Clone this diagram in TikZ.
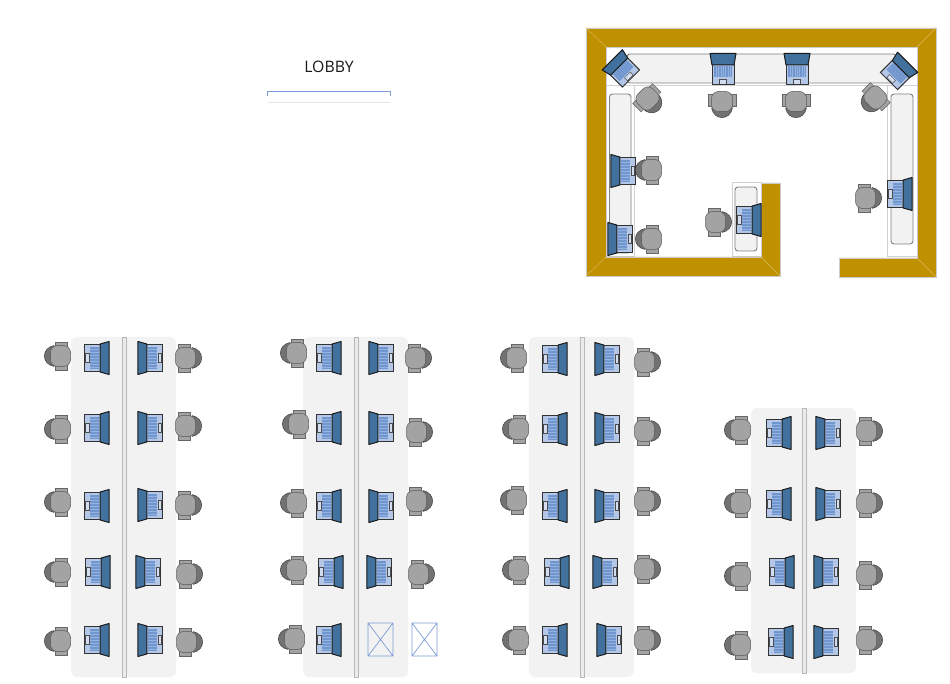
\documentclass[tikz,border=0pt]{standalone}
\usepackage{fontspec}
\setmainfont{Open Sans}
\definecolor{mywall}{RGB}{191,144,0}
\definecolor{mytable}{RGB}{242,242,242}
\definecolor{myscreen}{RGB}{65,113,156}
\definecolor{mybase}{RGB}{180,199,231}
\definecolor{mykeys}{RGB}{112,150,208}
\definecolor{myseat}{RGB}{163,163,163}
\definecolor{mycross}{RGB}{125,155,215}
\tikzset{
  laptop/.pic={
    \fill[mybase] (-11,-4) rectangle (11,16);
    \fill[mykeys] (-9,-3) rectangle (9,8.5);
    \draw[mybase!55!mykeys,line width=0.2pt,step=2.3] (-9,-3) grid (9,8.5);
    \draw[black!70,fill=mybase!60!white,line width=0.5pt] (-3.7,10) rectangle (3.7,15);
    \draw[black!80,line width=1pt] (-11,-4) rectangle (11,16);
    \draw[black!90,fill=myscreen,line width=1pt,line join=round] (-13,-15.5) -- (13,-15.5) -- (11,-4) -- (-11,-4) -- cycle;
  },
  chair/.pic={
    \draw[black!75,fill=myseat!70!black,line width=0.5pt,line join=round] (-10.5,3) .. controls (-8,15.8) and (8,15.8) .. (10.5,3) -- cycle;
    \draw[black!60,fill=myseat,line width=0.5pt] (-14,-10.5) rectangle (-9.5,1.5);
    \draw[black!60,fill=myseat,line width=0.5pt] (9.5,-10.5) rectangle (14,1.5);
    \draw[black!65,fill=myseat,line width=0.5pt,rounded corners=7pt] (-10.5,-13.5) rectangle (10.5,6.5);
  },
  sideways/.style={xscale=1.27,yscale=0.78},
  slanted/.style={xscale=1.1,yscale=0.84},
  counterout/.style={draw=black!18,line width=1pt,fill=white},
  counterin/.style={draw=black!50,line width=0.9pt,fill=mytable,rounded corners=3pt},
  tabletop/.style={fill=mytable,rounded corners=6pt},
  divider/.style={draw=black!28,line width=0.6pt,fill=black!8},
  emptybox/.style={draw=mycross,line width=0.7pt},
}
\begin{document}
\begin{tikzpicture}[x=1pt,y=-1pt]
  \useasboundingbox (0,0) rectangle (950,684);
  % lobby
  \node[font=\fontsize{15.8}{18}\selectfont,text=black!90] (lobby) at (329,67) {LOBBY};
  \draw[mycross,line width=0.8pt] (267,96) -- (267,91.5) -- (390.5,91.5) -- (390.5,96);
  \draw[black!10,line width=0.7pt] (268,102) -- (390,102);
  % room
  \draw[counterout] (606,47) rectangle (917,86);
  \draw[counterin] (627,54) -- (896,54) -- (896,83) -- (627,83) -- cycle;
  \draw[counterout] (606,86) rectangle (634,257);
  \draw[counterin] (609.5,94) rectangle (631,253);
  \draw[counterout] (887,86) rectangle (917,257);
  \draw[counterin] (891,94) rectangle (913,244);
  \draw[counterout] (732,183) rectangle (761,257);
  \draw[counterin] (735,187) rectangle (757,251);
  \draw[draw=black!20,fill=mywall,line width=0.7pt] (586,28) -- (936,28) -- (936,277) -- (839,277) -- (839,258) -- (917,258) -- (917,47) -- (606,47) -- (606,257) -- (761,257) -- (761,183) -- (780,183) -- (780,276) -- (586,276) -- cycle;
  \draw[mywall!60!white,line width=0.4pt] (586,28) -- (606,47) (936,28) -- (917,47) (936,277) -- (917,258) (780,276) -- (761,257) (586,276) -- (606,257);
  \foreach \x/\y in {723/69,797/69}
    \pic at (\x,\y) {laptop};
  \foreach \x/\y/\a in {621.5/69/45,898.5/71.5/-45}
    \pic[rotate=\a,slanted] at (\x,\y) {laptop};
  \foreach \x/\y/\a in {623/171/90,620/239/90,749/220/-90,900/194/-90}
    \pic[rotate=\a,sideways] at (\x,\y) {laptop};
  \foreach \x/\y/\a in {650/101/45,722/105/0,796/105/0,873/100/-45,648/170/-90,648/239/-90,719/222/90,869/198/90}
    \pic[rotate=\a] at (\x,\y) {chair};
  % tables
  \foreach \x/\t/\b in {71/337/677,303/337/677,529/337/677,751/408/673}{
    \fill[tabletop] (\x,\t) rectangle (\x+105,\b);
    \draw[divider] (\x+51,\t) rectangle (\x+55,\b);
  }
  % screen on the right
  \foreach \x/\y in {97/358,97/428,97/506,98/572,97/640,
                     329/358,329/428,329/506,331/572,329/640,
                     555/359,555/429,555/506,557/572,555/640,
                     779/433,779/504,782/572,781/642}
    \pic[rotate=-90,sideways] at (\x,\y) {laptop};
  % screen on the left
  \foreach \x/\y in {150/358,150/428,150/505,148/572,150/640,
                     381/358,381/428,381/506,379/572,
                     607/359,607/429,607/506,605/572,609/640,
                     828/433,828/504,826/572,826/642}
    \pic[rotate=90,sideways] at (\x,\y) {laptop};
  \foreach \x/\y in {57/356,57/429,57/502,57/572,57/641,
                     293/353,295/424,293/503,293/570,291/639,
                     513/358,515/429,513/500,515/570,515/640,
                     737/430,737/503,737/576,737/645}
    \pic[rotate=-90] at (\x,\y) {chair};
  \foreach \x/\y in {189/358,189/426,189/505,190/574,190/642,
                     419/358,420/432,420/501,422/574,
                     648/362,648/431,648/501,648/569,648/640,
                     870/431,870/503,870/575,870/640}
    \pic[rotate=90] at (\x,\y) {chair};
  % empty places
  \foreach \x in {368,412}
    \draw[emptybox] (\x,623) rectangle (\x+25,656) (\x,623) -- (\x+25,656) (\x+25,623) -- (\x,656);
\end{tikzpicture}
\end{document}
